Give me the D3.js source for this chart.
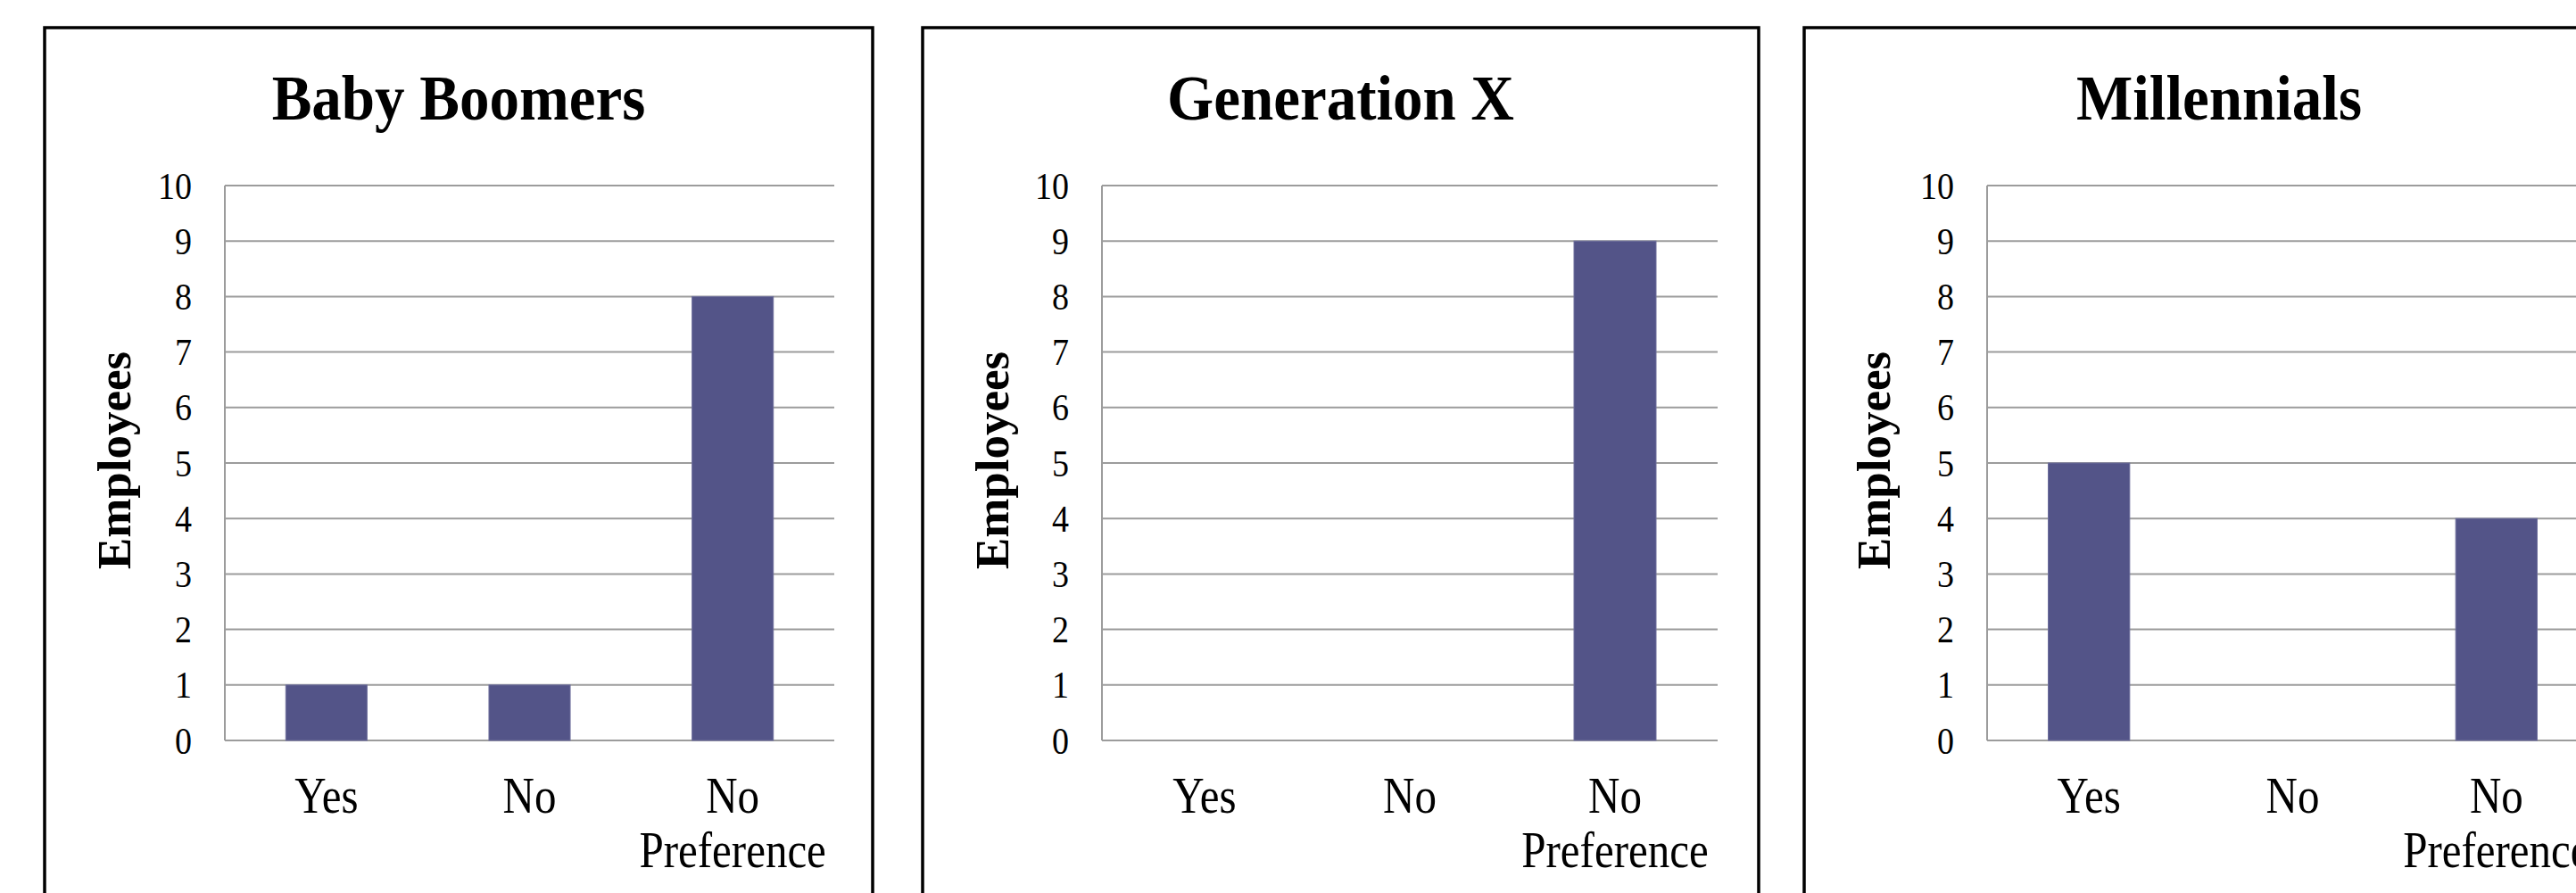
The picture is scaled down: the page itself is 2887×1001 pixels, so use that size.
<!DOCTYPE html>
<html>
<head>
<meta charset="utf-8">
<script src="https://cdn.jsdelivr.net/npm/d3@7"></script>
<style>
  html, body { margin: 0; padding: 0; background: #fff; overflow: hidden; }
  svg { display: block; }
  text { font-family: "Liberation Serif", "Times New Roman", serif; fill: #000; }
</style>
</head>
<body>
<svg id="chart" width="2887" height="1001"></svg>
<script>
// Survey responses per generation
const categories = ["Yes", "No", "No Preference"];
const groups = ["Baby Boomers", "Generation X", "Millennials"];
const boomers = [1, 1, 8];
const genX = [0, 0, 9];
const millennials = [5, 0, 4];
const yTicks = [0, 1, 2, 3, 4, 5, 6, 7, 8, 9, 10];
const yLabel = "Employees";

const seriesByGroup = [boomers, genX, millennials];

// Panel geometry (left edge, width, plot start and plot width within the panel)
const panels = [
  { left: 50,   width: 928, plotX: 202, plotW: 683 },
  { left: 1034, width: 937, plotX: 201, plotW: 690 },
  { left: 2022, width: 930, plotX: 205, plotW: 685 }
];
const panelTop = 31;
const panelH = 1040;
const plotTop = 208;
const plotBottom = 830;

const barColor = "#535488";
const gridColor = "#9c9c9c";

const svg = d3.select("#chart");

const y = d3.scaleLinear().domain([0, 10]).range([plotBottom, plotTop]);

groups.forEach((title, gi) => {
  const p = panels[gi];
  const g = svg.append("g").attr("transform", `translate(${p.left},0)`);
  const values = seriesByGroup[gi];

  // panel frame
  g.append("rect")
    .attr("x", 0).attr("y", panelTop)
    .attr("width", p.width).attr("height", panelH)
    .attr("fill", "#fff").attr("stroke", "#000").attr("stroke-width", 3.5);

  // title
  g.append("text")
    .attr("transform", `translate(${p.width / 2},134) scale(1,1.07)`)
    .attr("text-anchor", "middle")
    .attr("font-size", 67).attr("font-weight", "bold")
    .text(title);

  const x = d3.scaleBand()
    .domain(categories)
    .range([p.plotX, p.plotX + p.plotW])
    .paddingInner(0.6).paddingOuter(0.3);

  const band = d3.scaleBand()
    .domain(categories)
    .range([p.plotX, p.plotX + p.plotW]);

  // horizontal gridlines
  g.append("g").selectAll("line").data(yTicks).join("line")
    .attr("x1", p.plotX).attr("x2", p.plotX + p.plotW)
    .attr("y1", d => y(d)).attr("y2", d => y(d))
    .attr("stroke", gridColor).attr("stroke-width", 2);

  // vertical axis line
  g.append("line")
    .attr("x1", p.plotX).attr("x2", p.plotX)
    .attr("y1", y(10)).attr("y2", y(0))
    .attr("stroke", gridColor).attr("stroke-width", 2);

  // tick labels
  g.append("g").selectAll("text").data(yTicks).join("text")
    .attr("transform", d => `translate(${p.plotX - 37},${y(d)}) scale(1,1.13)`)
    .attr("dy", "0.34em")
    .attr("text-anchor", "end")
    .attr("font-size", 38)
    .text(d => d);

  // bars
  g.append("g").selectAll("rect").data(values).join("rect")
    .attr("x", (d, i) => x(categories[i]))
    .attr("width", x.bandwidth())
    .attr("y", d => y(d))
    .attr("height", d => y(0) - y(d))
    .attr("fill", barColor)
    .attr("stroke", "#6e6f9c").attr("stroke-width", 1);

  // category labels (wrapped onto two lines)
  const catG = g.append("g");
  categories.forEach(c => {
    const cx = band(c) + band.bandwidth() / 2;
    const words = c === "No Preference" ? ["No", "Preference"] : [c];
    words.forEach((w, li) => {
      catG.append("text")
        .attr("transform", `translate(${cx},${911 + li * 61}) scale(1,1.17)`)
        .attr("text-anchor", "middle")
        .attr("font-size", 49)
        .text(w);
    });
  });

  // y-axis title
  g.append("text")
    .attr("transform", `translate(${96},516) rotate(-90)`)
    .attr("text-anchor", "middle")
    .attr("font-size", 53).attr("font-weight", "bold")
    .text(yLabel);
});
</script>
</body>
</html>
